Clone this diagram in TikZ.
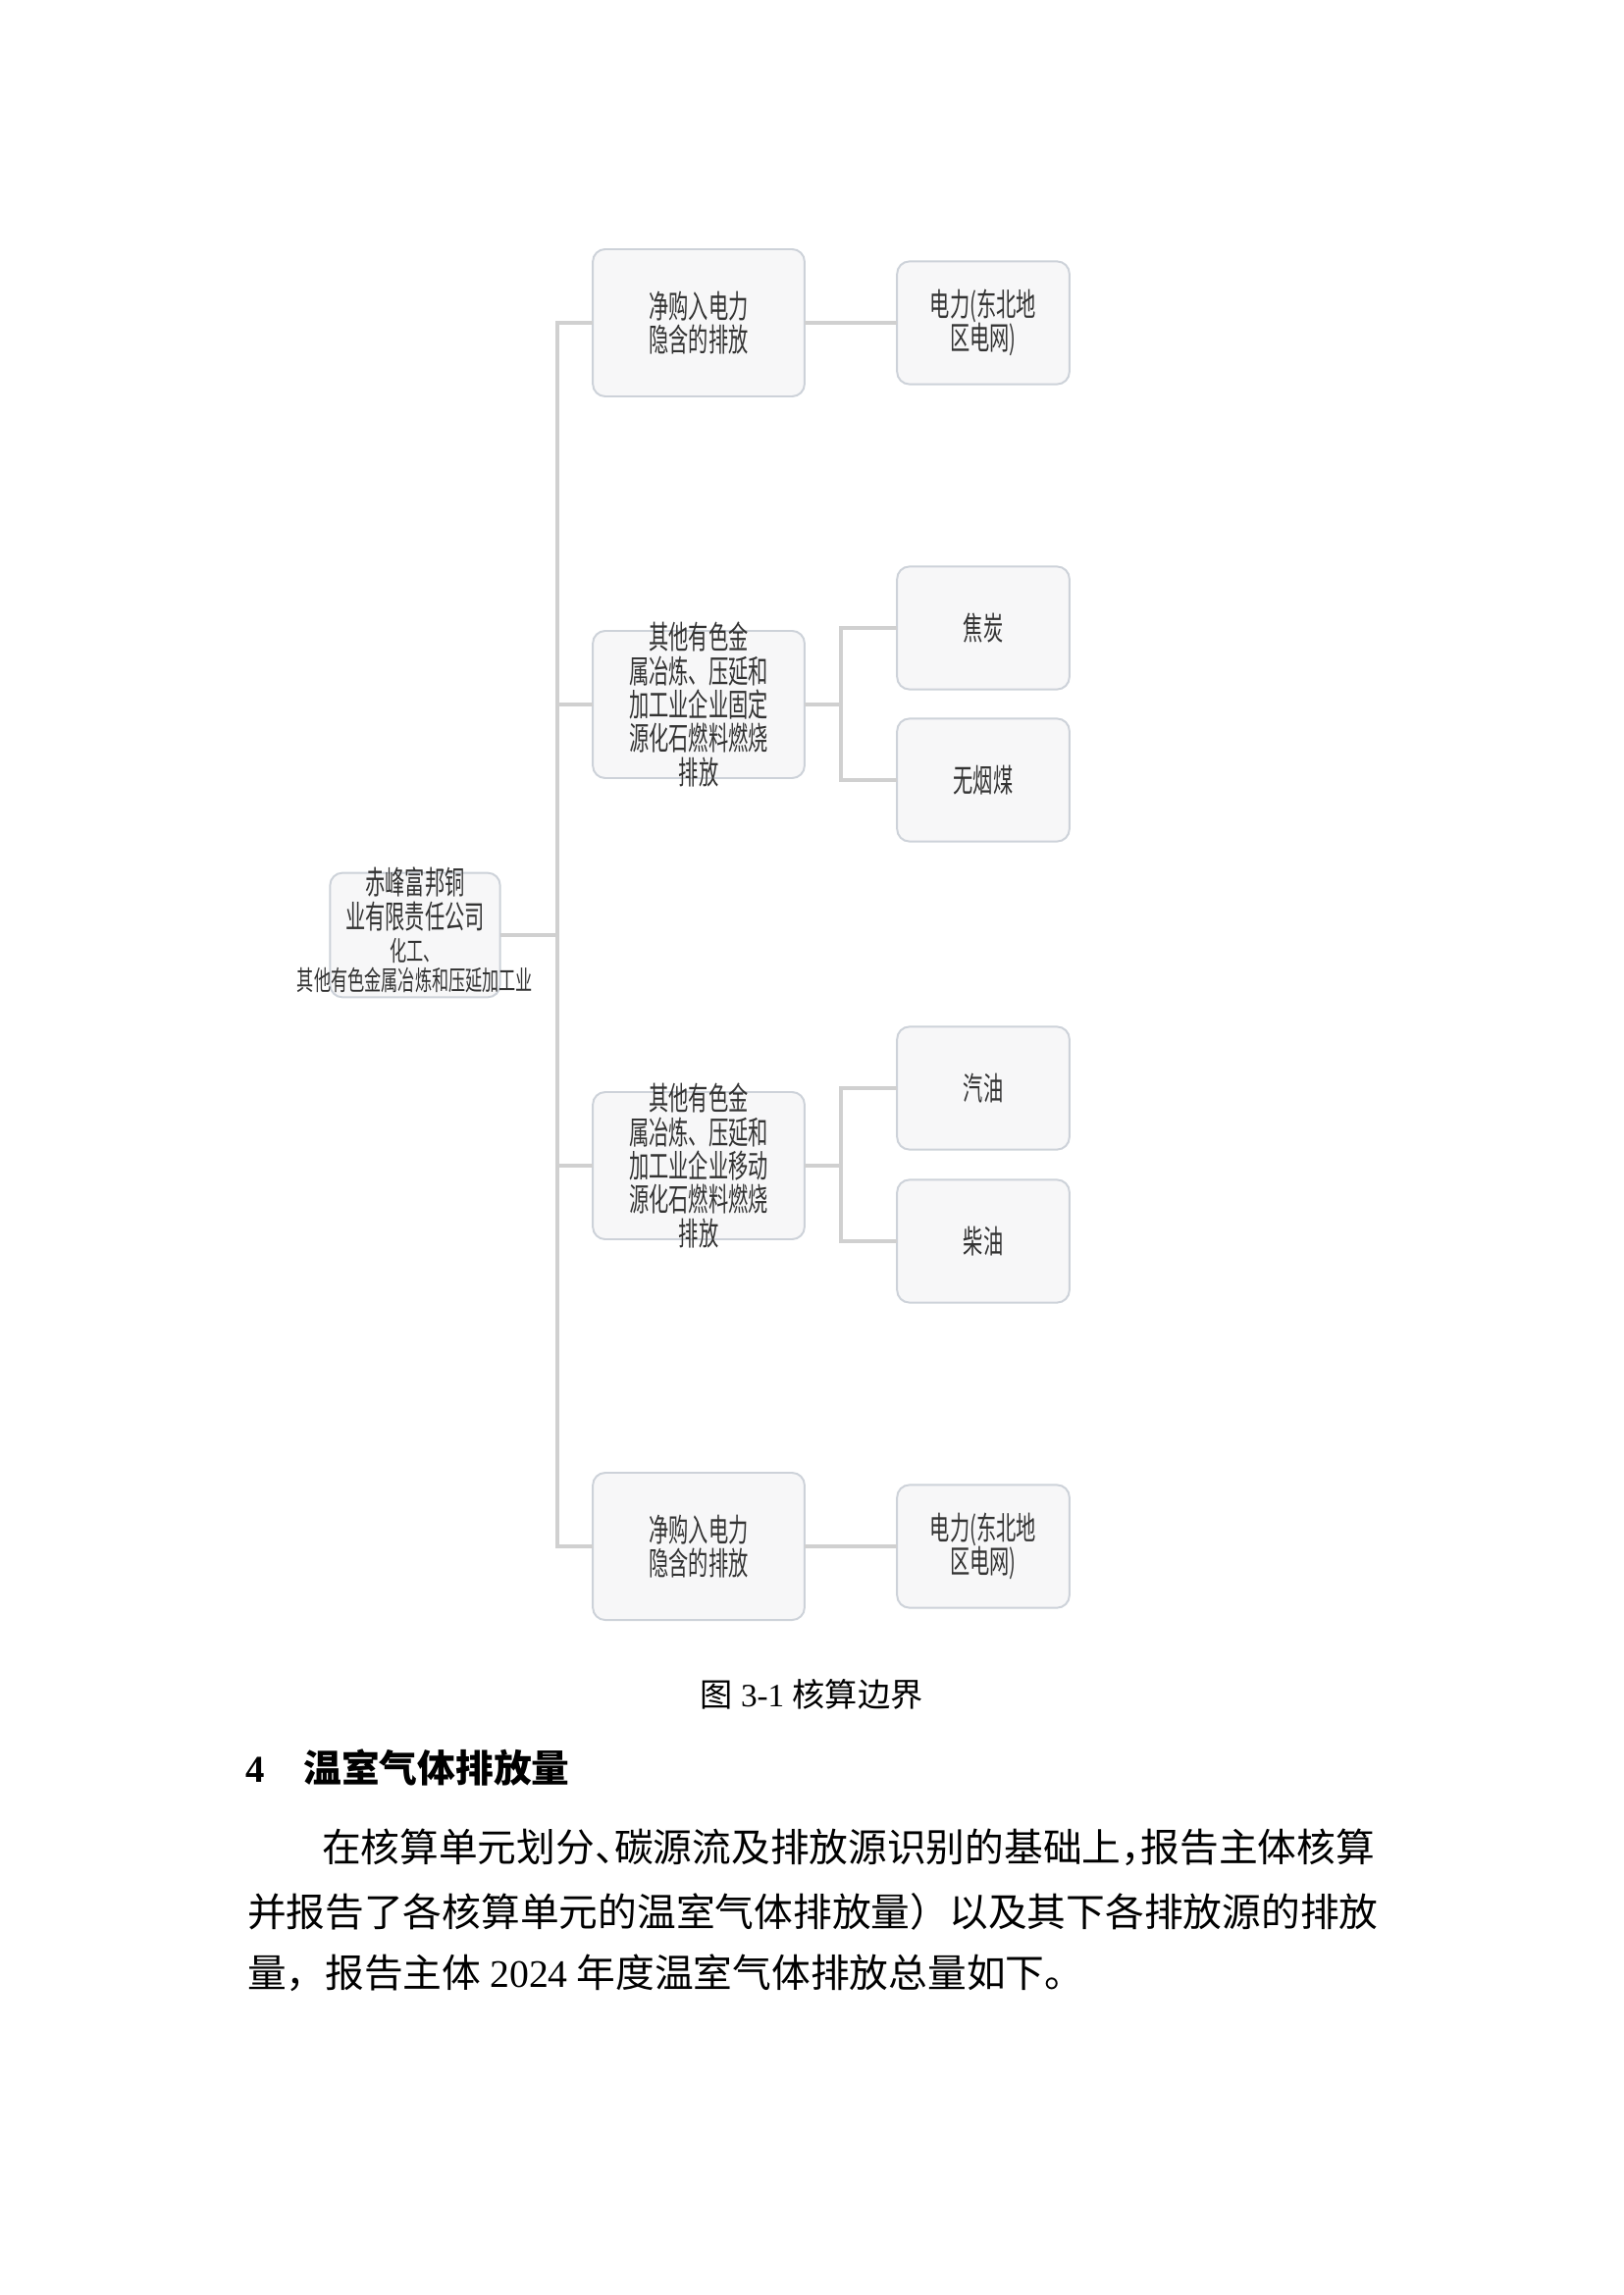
\documentclass[tikz,border=0pt]{standalone}
\usepackage{fontspec}
\setmainfont{Liberation Serif}
\newfontfamily\cjk{Noto Sans CJK SC}
\newfontfamily\boxfont[FakeStretch=0.62]{Noto Sans CJK SC}
\definecolor{boxline}{HTML}{CDD2D9}
\definecolor{boxfill}{HTML}{F7F7F8}
\definecolor{linkgray}{HTML}{D0D0D0}
\definecolor{boxtxt}{HTML}{333333}

\begin{document}
\begin{tikzpicture}[x=0.127mm,y=-0.127mm,inner sep=0pt,outer sep=0pt,
unitbox/.style={draw=boxline,fill=boxfill,line width=0.25mm,rounded corners=1.6mm,minimum width=27.4mm,minimum height=19.05mm},
srcbox/.style={unitbox,minimum width=22.3mm,minimum height=15.9mm},
rootbox/.style={unitbox,minimum width=22mm,minimum height=16.1mm},
boxtext/.style={text=boxtxt,align=center,font=\boxfont\fontsize{11.8}{12.4}\selectfont},
link/.style={draw=linkgray,line width=0.5mm},
body/.style={anchor=west,font=\cjk\fontsize{14.36}{17}\selectfont}]

\useasboundingbox (0,0) rectangle (1654,2339);

\draw (423,953) node[rootbox] (root) {} (423,948) node[boxtext] (roottxt) {赤峰富邦铜\\[0.4pt]业有限责任公司\\[-0.6pt]{\fontsize{10}{10.5}\selectfont 化工、}\\[-1.4pt]{\fontsize{10}{10.5}\selectfont 其他有色金属冶炼和压延加工业}};

\draw (712,329) node[unitbox] (a1) {} node[boxtext] (a1txt) {净购入电力\\隐含的排放};
\draw (712,718) node[unitbox] (a2) {} node[boxtext] (a2txt) {其他有色金\\属冶炼、压延和\\加工业企业固定\\源化石燃料燃烧\\排放};
\draw (712,1188) node[unitbox] (a3) {} node[boxtext] (a3txt) {其他有色金\\属冶炼、压延和\\加工业企业移动\\源化石燃料燃烧\\排放};
\draw (712,1576) node[unitbox] (a4) {} node[boxtext] (a4txt) {净购入电力\\隐含的排放};

\draw (1002,329) node[srcbox] (b1) {} node[boxtext] (b1txt) {电力(东北地\\区电网)};
\draw (1002,640) node[srcbox] (c1) {} node[boxtext] (c1txt) {焦炭};
\draw (1002,795) node[srcbox] (c2) {} node[boxtext] (c2txt) {无烟煤};
\draw (1002,1109) node[srcbox] (d1) {} node[boxtext] (d1txt) {汽油};
\draw (1002,1265) node[srcbox] (d2) {} node[boxtext] (d2txt) {柴油};
\draw (1002,1576) node[srcbox] (b4) {} node[boxtext] (b4txt) {电力(东北地\\区电网)};

% tree lines
\coordinate (trunk) at (568,953);
\coordinate (fork2) at (857,718);
\coordinate (fork3) at (857,1188);
\draw[link] (root.east) -- (trunk);
\draw[link] (a1.west) -| (trunk);
\draw[link] (a2.west) -| (trunk);
\draw[link] (a3.west) -| (trunk);
\draw[link] (a4.west) -| (trunk);
\draw[link] (a1.east) -- (b1.west);
\draw[link] (a2.east) -- (fork2);
\draw[link] (c1.west) -| (fork2);
\draw[link] (c2.west) -| (fork2);
\draw[link] (a3.east) -- (fork3);
\draw[link] (d1.west) -| (fork3);
\draw[link] (d2.west) -| (fork3);
\draw[link] (a4.east) -- (b4.west);

% page text
\draw (827,1727) node[font=\fontsize{12}{14}\selectfont] (caption) {{\cjk 图} 3-1 {\cjk 核算边界}};
\draw (250,1802) node[anchor=west,font=\fontsize{14}{17}\selectfont\bfseries] (heading) {4\hspace{14.5pt}{\cjk\bfseries 温室气体排放量}};
\draw (328,1883) node[body] (line1) {在核算单元划分\makebox[0.5em][l]{、}碳源流及排放源识别的基础上\makebox[0.5em][l]{，}报告主体核算};
\draw (252,1948) node[body] (line2) {并报告了各核算单元的温室气体排放量）以及其下各排放源的排放};
\draw (252,2011) node[body] (line3) {量，报告主体 {\rmfamily 2024} 年度温室气体排放总量如下。};

\end{tikzpicture}
\end{document}
